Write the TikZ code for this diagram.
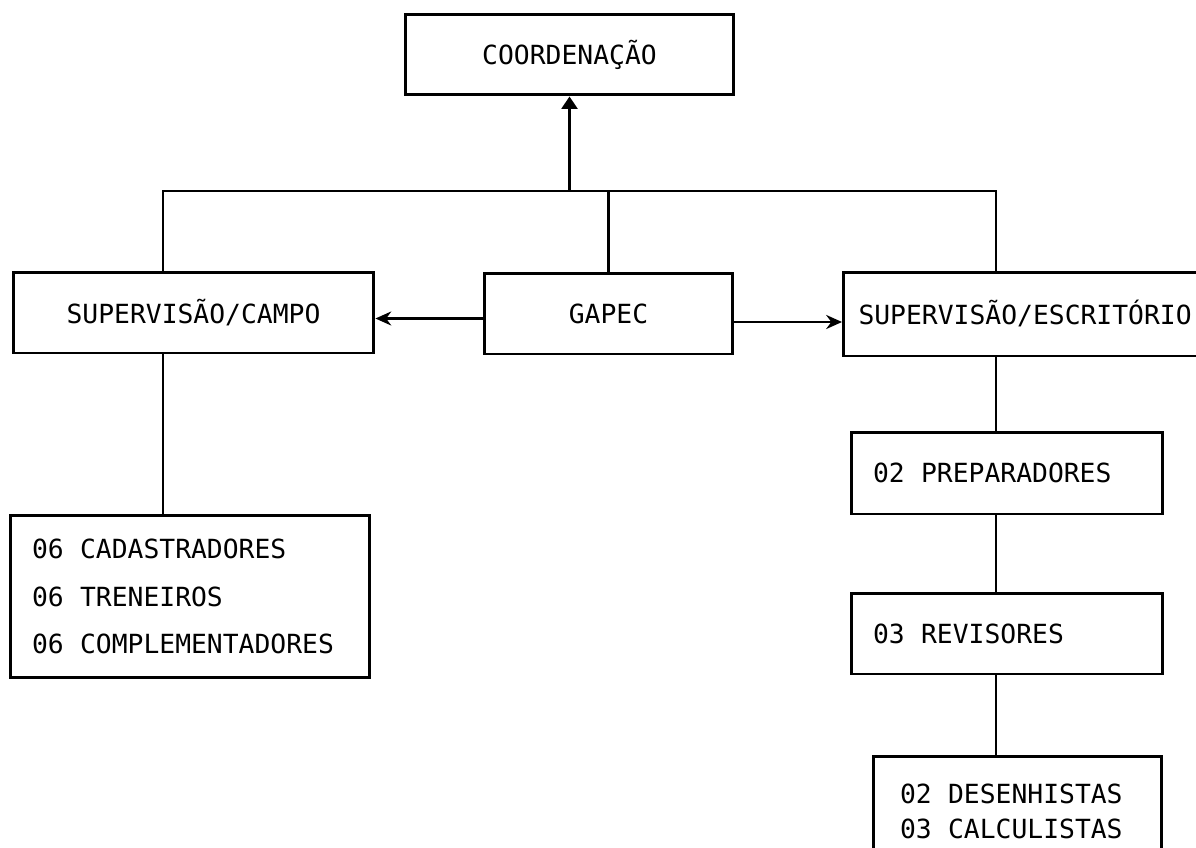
\documentclass[tikz,border=0pt]{standalone}
\usepackage{fontspec}
\setmonofont{DejaVu Sans Mono}
\usetikzlibrary{arrows.meta}
\pgfdeclarelayer{edgelayer}
\pgfdeclarelayer{nodelayer}
\pgfsetlayers{edgelayer,nodelayer,main}
\newcommand{\numgap}{\hspace{0.62em}}
\tikzset{font=\ttfamily\fontsize{15}{27}\selectfont}
\tikzstyle{none}=[inner sep=0pt]
\tikzstyle{box}=[draw,line width=1.7pt,fill=white,inner sep=0pt,minimum height=1.62cm]
\tikzstyle{listbox}=[box,align=left,inner ysep=0pt]
\tikzstyle{link}=[line width=1.4pt]
\tikzstyle{tip}=[link,-{Stealth[length=9pt,width=8pt]}]
\tikzstyle{uptip}=[link,-{Triangle[length=7pt,width=9pt]}]

\begin{document}
\begin{tikzpicture}[x=0.02cm,y=-0.02cm]
	\useasboundingbox (0,0) rectangle (1196,848);
	\begin{pgfonlayer}{nodelayer}
		\node [style=box, minimum width=6.58cm] (coord) at (569.5, 54.5) {COORDENAÇÃO};
		\node [style=box, minimum width=7.22cm] (campo) at (193.5, 312.5) {SUPERVISÃO/CAMPO};
		\node [style=box, minimum width=4.98cm] (gapec) at (608.5, 313.5) {GAPEC};
		\node [style=listbox, anchor=west, minimum height=1.68cm, text width=7.6cm, inner xsep=0.3cm] (escr) at (842, 314) {SUPERVISÃO/ESCRITÓRIO};
		\node [style=listbox, minimum height=3.26cm, text width=6.32cm, inner xsep=0.44cm] (lista) at (190, 596.5) {06\numgap CADASTRADORES\\06\numgap TRENEIROS\\06\numgap COMPLEMENTADORES};
		\node [style=listbox, minimum height=1.64cm, text width=5.36cm, inner xsep=0.44cm] (prep) at (1007, 473) {02\numgap PREPARADORES};
		\node [style=listbox, text width=5.36cm, inner xsep=0.44cm] (rev) at (1007, 633.5) {03\numgap REVISORES};
		\node [style=listbox, anchor=north, minimum height=2.2cm, text width=4.7cm, inner xsep=0.54cm, font=\ttfamily\fontsize{15}{20}\selectfont] (des) at (1017.5, 755) {02\numgap DESENHISTAS\\03\numgap CALCULISTAS};
		\coordinate (barL) at (163, 191);
		\coordinate (barR) at (996, 191);
	\end{pgfonlayer}
	\begin{pgfonlayer}{edgelayer}
		\draw [style=uptip] (coord.south |- barL) to (coord.south);
		\draw [style=link] (barL |- campo.north) -- (barL) -- (barR) -- (barR |- escr.north);
		\draw [style=link] (gapec.north) to (gapec.north |- barL);
		\draw [style=tip] ([yshift=-0.1cm]gapec.west) to ([yshift=-0.1cm]gapec.west -| campo.east);
		\draw [style=tip] ([yshift=-0.17cm]gapec.east) to ([yshift=-0.17cm]gapec.east -| escr.west);
		\draw [style=link] (barL |- campo.south) to (barL |- lista.north);
		\draw [style=link] (barR |- escr.south) to (barR |- prep.north);
		\draw [style=link] (barR |- prep.south) to (barR |- rev.north);
		\draw [style=link] (barR |- rev.south) to (barR |- des.north);
	\end{pgfonlayer}
\end{tikzpicture}
\end{document}
